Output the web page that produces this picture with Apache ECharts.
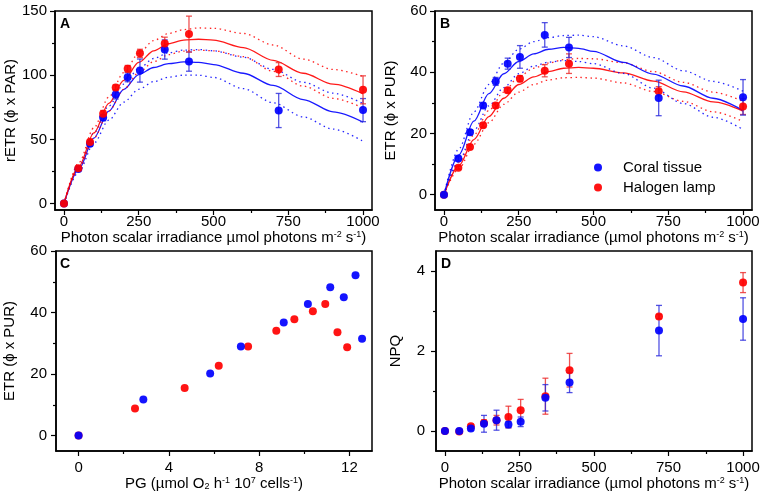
<!DOCTYPE html>
<html>
<head>
<meta charset="utf-8">
<script src="https://cdn.jsdelivr.net/npm/echarts@6/dist/echarts.min.js"></script>
<style>
html,body{margin:0;padding:0;background:#fff;}
#chart{width:763px;height:500px;}
</style>
</head>
<body>
<div id="chart"></div>
<script>
// ---------- DATA ----------
const irr = [0, 48, 87, 131, 173, 213, 254, 337, 418, 718, 1000];
const fitX = [0, 50, 100, 150, 200, 250, 300, 350, 400, 450, 500, 600, 700, 800, 900, 1000];

// Panel A: rETR
const aCoral    = [0, 27, 46.6, 67, 85, 98.4, 103.6, 120, 110.6, 72.5, 72.8];
const aCoralErr = [0, 1.5, 2, 2.5, 3.5, 3.5, 9, 7.5, 7.5, 13.3, 9];
const aHalo     = [0, 27.5, 48, 70, 90.4, 105, 117, 124.6, 132, 104.4, 88.6];
const aHaloErr  = [0, 1.5, 2, 2.5, 2, 2.6, 3.2, 5, 14, 5.4, 10.9];
const aFitCoral   = [0, 27, 51, 72, 89, 100.5, 106, 109, 110.3, 110, 108.3, 101.5, 92, 81, 71.5, 63.5];
const aFitCoralHi = [0, 29, 55, 76, 93, 105, 113, 117.5, 119.5, 120, 119, 114, 104.5, 94.5, 86, 78];
const aFitCoralLo = [0, 25, 47, 65, 79, 89, 95, 98.5, 100, 100, 98.3, 89.5, 78.5, 67.5, 58, 48.5];
const aFitHalo    = [0, 29, 55, 78, 96, 110, 119, 124.5, 127.3, 128, 127.3, 121.5, 111.5, 101.5, 93, 85.5];
const aFitHaloHi  = [0, 32, 59, 83, 102, 117, 127, 132.5, 135.5, 136.8, 136.5, 132.5, 123.5, 112.5, 104.5, 99];
const aFitHaloLo  = [0, 27, 51, 72, 89, 102, 110.5, 116, 118.8, 119.5, 119, 114.5, 103, 91.5, 82, 74.5];

// Panel B: ETR
const bCoral    = [0, 11.8, 20.4, 29.1, 37, 42.8, 45, 52.2, 48.1, 31.6, 31.8];
const bCoralErr = [0, 0.8, 0.8, 0.8, 1.3, 1.8, 3.7, 4, 3.3, 5.8, 5.8];
const bHalo     = [0, 8.8, 15.6, 22.7, 29.1, 34.1, 37.9, 40.5, 42.8, 33.8, 28.8];
const bHaloErr  = [0, 0.5, 0.7, 0.7, 0.8, 0.8, 1.0, 2, 3.2, 1.5, 2.6];
const bFitCoral   = [0, 13, 24, 33, 39.5, 43.5, 46, 47.5, 48.1, 47.8, 46.8, 43.2, 39.4, 35.5, 31.5, 27.5];
const bFitCoralHi = [0, 15, 27, 36, 43, 47.5, 50, 51.3, 52, 52.1, 51.6, 48.6, 44.8, 40.5, 37, 33.8];
const bFitCoralLo = [0, 11, 21, 29, 35, 39.5, 42, 43.3, 43.8, 43.5, 42.8, 39.6, 34.8, 29.8, 25.3, 21.3];
const bFitHalo    = [0, 9.5, 18, 25.5, 31.5, 36, 38.5, 40.2, 41.3, 41.6, 41.3, 39.8, 37.1, 33.6, 30.3, 27.3];
const bFitHaloHi  = [0, 10.5, 19.5, 27.5, 33.5, 38.5, 41.3, 43, 44.1, 44.5, 44.4, 43.1, 40.2, 36.7, 33.5, 30.5];
const bFitHaloLo  = [0, 8.5, 16.5, 23.5, 29.5, 33.5, 36, 37.5, 38.2, 38.3, 38.1, 36.5, 33.7, 30.5, 27.1, 23.9];

// Panel C: ETR vs PG
const cCoralPG  = [0, 2.87, 5.83, 7.19, 9.09, 10.16, 11.15, 11.75, 12.27, 12.56];
const cCoralETR = [0, 11.7, 20.2, 29, 36.8, 42.8, 48.2, 45, 52.1, 31.5];
const cHaloPG   = [0, 2.50, 4.70, 6.21, 7.51, 8.76, 9.56, 10.38, 10.93, 11.47, 11.90];
const cHaloETR  = [0, 8.8, 15.5, 22.7, 29, 34.1, 37.8, 40.4, 42.8, 33.6, 28.7];

// Panel D: NPQ
const dCoral    = [0, 0, 0.06, 0.18, 0.27, 0.16, 0.23, 0.83, 1.21, 2.51, 2.8];
const dCoralErr = [0, 0.03, 0.05, 0.21, 0.25, 0.08, 0.12, 0.33, 0.25, 0.63, 0.53];
const dHalo     = [0, -0.01, 0.12, 0.2, 0.27, 0.35, 0.52, 0.87, 1.52, 2.86, 3.71];
const dHaloErr  = [0, 0.02, 0.04, 0.08, 0.12, 0.27, 0.27, 0.45, 0.42, 0.05, 0.25];

// Tick values
const irrTicks = [0, 250, 500, 750, 1000];
const irrMinor = [125, 375, 625, 875];
const aYTicks = [0, 50, 100, 150];
const aYMinor = [25, 75, 125];
const etrTicks = [0, 20, 40, 60];
const etrMinor = [10, 30, 50];
const pgTicks = [0, 4, 8, 12];
const pgMinor = [2, 6, 10];
const npqTicks = [0, 2, 4];
const npqMinor = [1, 3];

// ---------- STYLE ----------
const FONT = '"Liberation Sans", Arial, sans-serif';
const BLUE = '#0000ff';
const RED = '#ff0000';
const BLUE_ERR = 'rgba(40,40,220,0.8)';
const RED_ERR = 'rgba(235,40,40,0.8)';

const richStyles = {
  sup: { fontSize: 9, verticalAlign: 'top', fontFamily: FONT, color: '#000' },
  sub: { fontSize: 9, verticalAlign: 'bottom', fontFamily: FONT, color: '#000' }
};

function mainAxis(grid, pos, min, max, ticks, name, nameGap, labelMargin) {
  return {
    type: 'value', gridIndex: grid, position: pos, min: min, max: max,
    name: name, nameLocation: 'middle', nameGap: nameGap,
    nameTextStyle: { fontSize: 15, color: '#000', fontFamily: FONT, rich: richStyles },
    axisLine: { show: true, onZero: false, lineStyle: { color: '#000', width: 1.5 } },
    axisTick: { show: true, length: 5, lineStyle: { color: '#000', width: 1.2 }, customValues: ticks },
    axisLabel: { show: true, fontSize: 15, color: '#000', fontFamily: FONT, margin: labelMargin,
                 customValues: ticks, formatter: v => String(v) },
    splitLine: { show: false },
    minorTick: { show: false }
  };
}
function minorAxis(grid, pos, min, max, ticks) {
  return {
    type: 'value', gridIndex: grid, position: pos, offset: 0, min: min, max: max,
    axisLine: { show: false, onZero: false },
    axisTick: { show: true, length: 3, lineStyle: { color: '#000', width: 1.2 }, customValues: ticks },
    axisLabel: { show: false, customValues: ticks },
    splitLine: { show: false }
  };
}

const grids = [
  { left: 55, top: 11, width: 317, height: 199 },
  { left: 435, top: 11, width: 317, height: 199 },
  { left: 56, top: 251, width: 316, height: 200 },
  { left: 436, top: 251, width: 316, height: 200 }
].map(g => Object.assign(g, { show: true, borderColor: '#000', borderWidth: 1.5, backgroundColor: 'transparent', containLabel: false }));

const xAxes = [
  mainAxis(0, 'bottom', -30, 1030, irrTicks, 'Photon scalar irradiance µmol photons m{sup|-2} s{sup|-1})', 13, 4),
  minorAxis(0, 'bottom', -30, 1030, irrMinor),
  mainAxis(1, 'bottom', -30, 1030, irrTicks, 'Photon scalar irradiance (µmol photons m{sup|-2} s{sup|-1})', 13, 4),
  minorAxis(1, 'bottom', -30, 1030, irrMinor),
  mainAxis(2, 'bottom', -1, 13, pgTicks, 'PG (µmol O{sub|2} h{sup|-1} 10{sup|7} cells{sup|-1})', 19, 9),
  minorAxis(2, 'bottom', -1, 13, pgMinor),
  mainAxis(3, 'bottom', -30, 1030, irrTicks, 'Photon scalar irradiance (µmol photons m{sup|-2} s{sup|-1})', 18, 9),
  minorAxis(3, 'bottom', -30, 1030, irrMinor)
];
const yAxes = [
  mainAxis(0, 'left', -5, 150, aYTicks, 'rETR (ϕ x PAR)', 37, 8),
  minorAxis(0, 'left', -5, 150, aYMinor),
  mainAxis(1, 'left', -5, 60, etrTicks, 'ETR (ϕ x PUR)', 37, 8),
  minorAxis(1, 'left', -5, 60, etrMinor),
  mainAxis(2, 'left', -5, 60, etrTicks, 'ETR (ϕ x PUR)', 39, 9),
  minorAxis(2, 'left', -5, 60, etrMinor),
  mainAxis(3, 'left', -0.5, 4.5, npqTicks, 'NPQ', 33, 11),
  minorAxis(3, 'left', -0.5, 4.5, npqMinor)
];

function pairs(xs, ys) { return xs.map((x, i) => [x, ys[i]]); }

function scatter(name, panel, xs, ys, color) {
  return {
    type: 'scatter', name: name, xAxisIndex: panel * 2, yAxisIndex: panel * 2,
    data: pairs(xs, ys), symbol: 'circle', symbolSize: 8,
    itemStyle: { color: color, opacity: 0.92 }, z: 4, silent: true
  };
}
function errBars(name, panel, xs, ys, errs, color) {
  const data = [];
  xs.forEach((x, i) => { if (errs[i] > 0) data.push([x, ys[i] - errs[i], ys[i] + errs[i]]); });
  return {
    type: 'custom', name: name, xAxisIndex: panel * 2, yAxisIndex: panel * 2,
    data: data, z: 3, silent: true,
    encode: { x: 0, y: [1, 2] },
    renderItem: function (params, api) {
      const x = api.value(0);
      const lo = api.coord([x, api.value(1)]);
      const hi = api.coord([x, api.value(2)]);
      const hw = 3;
      const st = { stroke: color, lineWidth: 1.3 };
      return {
        type: 'group', children: [
          { type: 'line', shape: { x1: lo[0], y1: lo[1], x2: hi[0], y2: hi[1] }, style: st },
          { type: 'line', shape: { x1: lo[0] - hw, y1: lo[1], x2: lo[0] + hw, y2: lo[1] }, style: st },
          { type: 'line', shape: { x1: hi[0] - hw, y1: hi[1], x2: hi[0] + hw, y2: hi[1] }, style: st }
        ]
      };
    }
  };
}
function fitLine(name, panel, ys, color, dotted) {
  return {
    type: 'line', name: name, xAxisIndex: panel * 2, yAxisIndex: panel * 2,
    data: pairs(fitX, ys), smooth: 0.3, smoothMonotone: 'x', symbol: 'none', silent: true, z: 2,
    lineStyle: dotted ? { color: color, width: 1.3, type: [1.5, 3.5], opacity: 0.85 }
                      : { color: color, width: 1.3, opacity: 0.9 }
  };
}

const series = [
  // Panel A (red drawn on top)
  fitLine('fA c', 0, aFitCoral, BLUE, false),
  fitLine('fA ch', 0, aFitCoralHi, BLUE, true),
  fitLine('fA cl', 0, aFitCoralLo, BLUE, true),
  fitLine('fA h', 0, aFitHalo, RED, false),
  fitLine('fA hh', 0, aFitHaloHi, RED, true),
  fitLine('fA hl', 0, aFitHaloLo, RED, true),
  errBars('eA c', 0, irr, aCoral, aCoralErr, BLUE_ERR),
  errBars('eA h', 0, irr, aHalo, aHaloErr, RED_ERR),
  scatter('Coral tissue A', 0, irr, aCoral, BLUE),
  scatter('Halogen lamp A', 0, irr, aHalo, RED),
  // Panel B (blue on top)
  fitLine('fB h', 1, bFitHalo, RED, false),
  fitLine('fB hh', 1, bFitHaloHi, RED, true),
  fitLine('fB hl', 1, bFitHaloLo, RED, true),
  fitLine('fB c', 1, bFitCoral, BLUE, false),
  fitLine('fB ch', 1, bFitCoralHi, BLUE, true),
  fitLine('fB cl', 1, bFitCoralLo, BLUE, true),
  errBars('eB h', 1, irr, bHalo, bHaloErr, RED_ERR),
  errBars('eB c', 1, irr, bCoral, bCoralErr, BLUE_ERR),
  scatter('Halogen lamp', 1, irr, bHalo, RED),
  scatter('Coral tissue', 1, irr, bCoral, BLUE),
  // Panel C
  scatter('Halogen lamp C', 2, cHaloPG, cHaloETR, RED),
  scatter('Coral tissue C', 2, cCoralPG, cCoralETR, BLUE),
  // Panel D
  errBars('eD h', 3, irr, dHalo, dHaloErr, RED_ERR),
  errBars('eD c', 3, irr, dCoral, dCoralErr, BLUE_ERR),
  scatter('Halogen lamp D', 3, irr, dHalo, RED),
  scatter('Coral tissue D', 3, irr, dCoral, BLUE)
];

const panelLabels = ['A', 'B', 'C', 'D'];
const labelPos = [[60, 17], [440, 17], [60, 257], [441, 257]];

const option = {
  animation: false,
  backgroundColor: '#fff',
  textStyle: { fontFamily: FONT },
  grid: grids,
  xAxis: xAxes,
  yAxis: yAxes,
  legend: {
    show: true, orient: 'vertical', left: 589, top: 155,
    data: ['Coral tissue', 'Halogen lamp'],
    icon: 'circle', itemWidth: 8, itemHeight: 8, itemGap: 5,
    selectedMode: false,
    textStyle: { fontSize: 15, color: '#000', fontFamily: FONT, padding: [0, 0, 0, 16] }
  },
  graphic: panelLabels.map((t, i) => ({
    type: 'text', left: labelPos[i][0], top: labelPos[i][1], silent: true,
    style: { text: t, font: 'bold 14px ' + FONT, fill: '#000' }
  })),
  series: series
};

const chart = echarts.init(document.getElementById('chart'), null, { renderer: 'canvas' });
chart.setOption(option);
</script>
</body>
</html>
